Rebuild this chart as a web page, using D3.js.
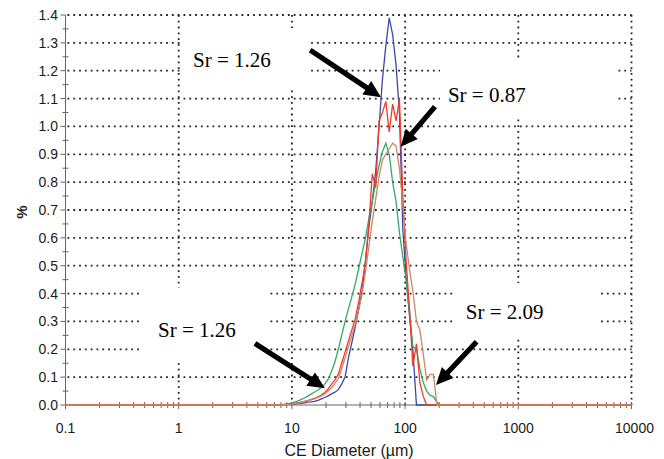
<!DOCTYPE html>
<html>
<head>
<meta charset="utf-8">
<script src="https://cdn.jsdelivr.net/npm/d3@7"></script>
<style>
  html, body { margin: 0; padding: 0; background: #fff; }
  svg { display: block; }
</style>
</head>
<body>
<svg id="chart" width="664" height="459"></svg>
<script>
// Particle size bins (CE diameter, µm)
const diameters = [7.94, 8.51, 9.12, 9.77, 10.5, 11.2, 12.0, 12.9, 13.8, 14.8,
  15.8, 17.0, 18.2, 19.5, 20.9, 22.4, 24.0, 25.7, 27.5, 29.5,
  31.6, 33.9, 36.3, 38.9, 41.7, 44.7, 47.9, 51.3, 55.0, 58.9,
  63.1, 67.6, 72.4, 77.6, 83.2, 89.1, 95.5, 102, 110, 117,
  126, 135, 145, 155, 166, 178, 191, 204];

// Volume fraction (%) per bin for each sample
const blueValues = [0, 0.001, 0.002, 0.003, 0.004, 0.005, 0.006, 0.008, 0.010, 0.011,
  0.013, 0.017, 0.022, 0.027, 0.033, 0.040, 0.046, 0.055, 0.075, 0.10,
  0.17, 0.225, 0.28, 0.345, 0.41, 0.52, 0.64, 0.73, 0.84, 1.0,
  1.17, 1.29, 1.39, 1.33, 1.22, 1.05, 0.63, 0.46, 0.31, 0.2,
  0, 0, 0, 0, 0, 0, 0, 0];
const greenValues = [0, 0.002, 0.004, 0.007, 0.010, 0.014, 0.019, 0.025, 0.032, 0.039,
  0.046, 0.054, 0.063, 0.075, 0.093, 0.12, 0.155, 0.20, 0.25, 0.30,
  0.345, 0.39, 0.435, 0.49, 0.545, 0.60, 0.67, 0.73, 0.80, 0.86,
  0.91, 0.94, 0.90, 0.80, 0.73, 0.62, 0.53, 0.45, 0.32, 0.21,
  0.20, 0.13, 0.08, 0.05, 0.035, 0.03, 0.01, 0];
const redValues = [0, 0.001, 0.002, 0.004, 0.006, 0.008, 0.010, 0.013, 0.016, 0.020,
  0.024, 0.029, 0.036, 0.045, 0.058, 0.075, 0.09, 0.11, 0.15, 0.19,
  0.23, 0.27, 0.31, 0.37, 0.44, 0.51, 0.65, 0.83, 0.78, 1.02,
  1.05, 1.09, 0.98, 1.08, 1.02, 1.10, 0.75, 0.52, 0.33, 0.14,
  0.22, 0.08, 0.03, 0, 0, 0, 0, 0];
const brownValues = [0, 0.001, 0.002, 0.003, 0.005, 0.007, 0.009, 0.012, 0.015, 0.018,
  0.022, 0.027, 0.033, 0.040, 0.050, 0.062, 0.078, 0.095, 0.13, 0.17,
  0.21, 0.25, 0.29, 0.34, 0.40, 0.48, 0.57, 0.66, 0.74, 0.82,
  0.88, 0.90, 0.92, 0.94, 0.93, 0.85, 0.72, 0.58, 0.48, 0.41,
  0.30, 0.27, 0.18, 0.09, 0.11, 0.11, 0, 0];

// Axis ticks
const xTicks = [0.1, 1, 10, 100, 1000, 10000];
const xTickLabels = ["0.1", "1", "10", "100", "1000", "10000"];
const yTicks = [0, 0.1, 0.2, 0.3, 0.4, 0.5, 0.6, 0.7, 0.8, 0.9, 1.0, 1.1, 1.2, 1.3, 1.4];

// Span ratio callouts: label text, label anchor [d, %], arrow tail and tip [d, %]
const calloutTexts = ["Sr = 1.26", "Sr = 0.87", "Sr = 1.26", "Sr = 2.09"];
const calloutAnchors = [[1.34, 1.213], [239, 1.088], [0.656, 0.245], [344, 0.308]];
const arrowTails = [[14.5, 1.274], [183.6, 1.071], [4.72, 0.221], [428.5, 0.227]];
const arrowTips = [[61.2, 1.105], [91.4, 0.927], [19.6, 0.06], [187.5, 0.072]];

const svg = d3.select("#chart");
const x = d3.scaleLog().domain([0.1, 10000]).range([65.5, 631.5]);
const y = d3.scaleLinear().domain([0, 1.4]).range([405, 15]);

// Dotted grid
const grid = svg.append("g").attr("stroke", "#222").attr("stroke-width", 1.8)
  .attr("stroke-dasharray", "1.8,4");
grid.selectAll("line.h").data(yTicks.slice(1)).join("line")
  .attr("x1", x(0.1) + 2).attr("x2", x(10000))
  .attr("y1", d => y(d)).attr("y2", d => y(d));
grid.selectAll("line.v").data(xTicks.slice(1)).join("line")
  .attr("x1", d => x(d)).attr("x2", d => x(d))
  .attr("y1", y(1.4)).attr("y2", y(0));

// Callout label backgrounds
const fontSpec = "21px 'Liberation Serif', 'Times New Roman', serif";
const boxPads = [[11, 38, 20, 16], [8, 92, 25, 9], [18, 34, 30, 18], [11, 56, 17, 14]];
const labelG = svg.append("g");
const labels = calloutTexts.map((t, i) => {
  const [d, v] = calloutAnchors[i];
  return labelG.append("text").attr("x", x(d)).attr("y", y(v))
    .style("font", fontSpec).attr("fill", "#000").text(t);
});
labels.forEach((lab, i) => {
  const b = lab.node().getBBox();
  const p = boxPads[i];
  svg.insert("rect", "g:nth-of-type(2)")
    .attr("x", b.x - p[0]).attr("y", b.y - p[2])
    .attr("width", b.width + p[0] + p[1]).attr("height", b.height + p[2] + p[3])
    .attr("fill", "#fff");
});

// Axes
const axisColor = "#666";
const ax = svg.append("g");
ax.append("line").attr("x1", x(0.1)).attr("x2", x(0.1)).attr("y1", y(1.4)).attr("y2", y(0))
  .attr("stroke", axisColor);
ax.append("line").attr("x1", x(0.1)).attr("x2", x(10000)).attr("y1", y(0)).attr("y2", y(0))
  .attr("stroke", axisColor);
// y ticks: major to the left, minor crossing
ax.selectAll("line.ym").data(yTicks).join("line")
  .attr("x1", x(0.1) - 5).attr("x2", x(0.1))
  .attr("y1", d => y(d)).attr("y2", d => y(d)).attr("stroke", axisColor);
ax.selectAll("line.yn").data(yTicks.slice(1)).join("line")
  .attr("x1", x(0.1) - 3).attr("x2", x(0.1) + 3)
  .attr("y1", d => y(d - 0.05)).attr("y2", d => y(d - 0.05)).attr("stroke", axisColor);
// x minor ticks
const xMinor = x.ticks().filter(t => !xTicks.includes(t));
ax.selectAll("line.xn").data(xMinor).join("line")
  .attr("x1", d => x(d)).attr("x2", d => x(d))
  .attr("y1", y(0) - 3).attr("y2", y(0) + 3).attr("stroke", axisColor);
ax.selectAll("line.xm").data(xTicks).join("line")
  .attr("x1", d => x(d)).attr("x2", d => x(d))
  .attr("y1", y(0) - 3).attr("y2", y(0) + 4).attr("stroke", axisColor);

const tickFont = "14px 'Liberation Sans', Arial, sans-serif";
ax.selectAll("text.y").data(yTicks).join("text")
  .attr("x", 58).attr("y", d => y(d) + 5).attr("text-anchor", "end")
  .style("font", tickFont).attr("fill", "#1a1a1a").text(d => d.toFixed(1));
ax.selectAll("text.x").data(xTicks).join("text")
  .attr("x", (d, i) => x(d) + (i === 5 ? 3 : 0)).attr("y", 433).attr("text-anchor", "middle")
  .style("font", tickFont).attr("fill", "#1a1a1a").text((d, i) => xTickLabels[i]);
ax.append("text").attr("transform", "translate(27,212) rotate(-90)")
  .attr("text-anchor", "middle").style("font", "bold 15px 'Liberation Sans', Arial, sans-serif")
  .attr("fill", "#222").text("%");
ax.append("text").attr("x", 349).attr("y", 456).attr("text-anchor", "middle")
  .style("font", "16px 'Liberation Sans', Arial, sans-serif").attr("fill", "#1a1a1a")
  .text("CE Diameter (µm)");

// Distribution curves
const series = [
  { values: blueValues, color: "#3b48aa" },
  { values: greenValues, color: "#35a865" },
  { values: redValues, color: "#ef3a2a" },
  { values: brownValues, color: "#cf8662" }
];
const line = d3.line().x(d => x(d[0])).y(d => y(d[1]));
const curves = svg.append("g").attr("fill", "none").attr("stroke-width", 1.3);
series.forEach(s => {
  const pts = [[0.1, 0]].concat(diameters.map((d, i) => [d, s.values[i]]), [[10000, 0]]);
  curves.append("path").datum(pts).attr("d", line).attr("stroke", s.color);
});

// Arrows
const arrows = svg.append("g");
arrowTails.forEach((t, i) => {
  const x0 = x(t[0]), y0 = y(t[1]);
  const x1 = x(arrowTips[i][0]), y1 = y(arrowTips[i][1]);
  const ang = Math.atan2(y1 - y0, x1 - x0);
  const headLen = 17, headW = 8, shaftW = 2.6;
  const bx = x1 - headLen * Math.cos(ang), by = y1 - headLen * Math.sin(ang);
  const nx = -Math.sin(ang), ny = Math.cos(ang);
  const pts = [
    [x0 + nx * shaftW, y0 + ny * shaftW],
    [bx + nx * shaftW, by + ny * shaftW],
    [bx + nx * headW, by + ny * headW],
    [x1, y1],
    [bx - nx * headW, by - ny * headW],
    [bx - nx * shaftW, by - ny * shaftW],
    [x0 - nx * shaftW, y0 - ny * shaftW]
  ];
  arrows.append("path").attr("d", "M" + pts.map(p => p.join(",")).join("L") + "Z")
    .attr("fill", "#000");
});

// Bring labels to the front
labelG.raise();
</script>
</body>
</html>
